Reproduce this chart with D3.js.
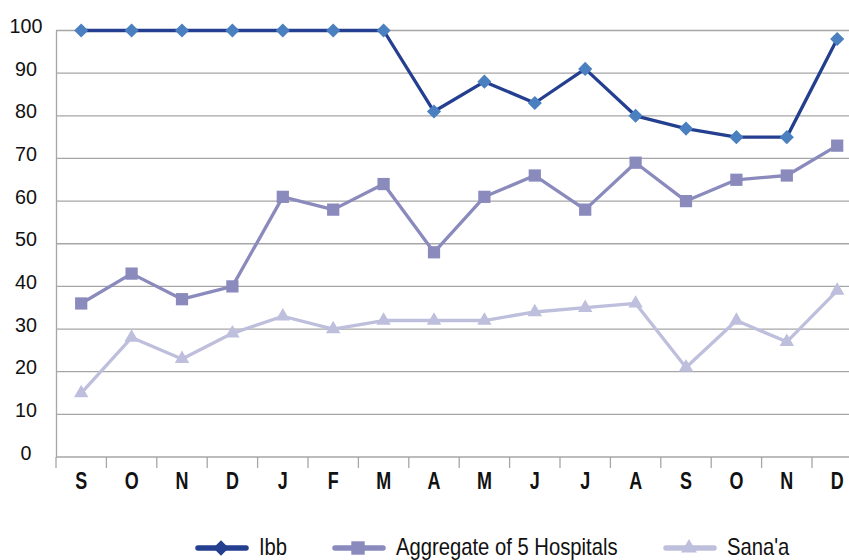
<!DOCTYPE html>
<html>
<head>
<meta charset="utf-8">
<script src="https://cdn.jsdelivr.net/npm/d3@7"></script>
<style>
  body { margin: 0; background: #fff; }
  text { font-family: "Liberation Sans", Arial, sans-serif; }
</style>
</head>
<body>
<div id="chart"></div>
<script>
// month labels, Sep through Dec of the following year
const months = ["S", "O", "N", "D", "J", "F", "M", "A", "M", "J", "J", "A", "S", "O", "N", "D"];
const ibb = [100, 100, 100, 100, 100, 100, 100, 81, 88, 83, 91, 80, 77, 75, 75, 98];
const aggregate = [36, 43, 37, 40, 61, 58, 64, 48, 61, 66, 58, 69, 60, 65, 66, 73];
const sanaa = [15, 28, 23, 29, 33, 30, 32, 32, 32, 34, 35, 36, 21, 32, 27, 39];
const yTicks = [0, 10, 20, 30, 40, 50, 60, 70, 80, 90, 100];

const W = 849, H = 560;
const margin = { top: 30.5, left: 56, bottom: 103 };
const plotW = 16 * 50.4, plotH = H - margin.top - margin.bottom;

// no condensed font is installed, so squeeze text horizontally
function squeeze(sel, sx) {
    sel.each(function () {
        const t = d3.select(this);
        const x0 = +(t.attr("x") || 0);
        t.attr("x", x0 / sx).attr("transform", `scale(${sx},1)`);
    });
}

const svg = d3.select("#chart").append("svg")
    .attr("width", W)
    .attr("height", H);

const keys = months.map((m, i) => i);
const x = d3.scaleBand().domain(keys).range([margin.left, margin.left + plotW]);
const y = d3.scaleLinear().domain([0, 100]).range([margin.top + plotH, margin.top]);

// gridlines
svg.append("g")
    .selectAll("line")
    .data(yTicks)
    .join("line")
    .attr("x1", margin.left)
    .attr("x2", W)
    .attr("y1", d => y(d))
    .attr("y2", d => y(d))
    .attr("stroke", "#a6a6a6")
    .attr("stroke-width", 1.3);

// y axis
const yAxis = svg.append("g")
    .attr("transform", `translate(${margin.left},0)`)
    .call(d3.axisLeft(y).tickValues(yTicks).tickSize(0).tickPadding(30));
yAxis.select(".domain").attr("stroke", "#a6a6a6").attr("stroke-width", 1.3);
yAxis.selectAll("text")
    .style("font-size", "21px")
    .attr("text-anchor", "middle")
    .attr("fill", "#111")
    .attr("dy", "0.1em")
    .call(squeeze, 0.94);

// x axis with ticks between categories
const xAxis = svg.append("g")
    .attr("transform", `translate(0,${y(0)})`)
    .call(d3.axisBottom(x).tickFormat(i => months[i]).tickSize(0).tickPadding(16));
xAxis.select(".domain").remove();
xAxis.selectAll("text")
    .style("font-size", "23px")
    .style("font-weight", "bold")
    .attr("fill", "#111")
    .call(squeeze, 0.78);
xAxis.selectAll(".sep")
    .data(d3.range(17))
    .join("line")
    .attr("class", "sep")
    .attr("x1", i => margin.left + i * x.bandwidth())
    .attr("x2", i => margin.left + i * x.bandwidth())
    .attr("y1", 0)
    .attr("y2", 11)
    .attr("stroke", "#a6a6a6")
    .attr("stroke-width", 1.3);

const series = [
    { name: "Ibb", values: ibb, line: "#243f8f", mark: "#4a7fc0", symbol: d3.symbolSquare, size: 100, rot: 45 },
    { name: "Aggregate of 5 Hospitals", values: aggregate, line: "#8a8abd", mark: "#8a8abd", symbol: d3.symbolSquare, size: 150, rot: 0 },
    { name: "Sana'a", values: sanaa, line: "#bebedd", mark: "#bebedd", symbol: d3.symbolTriangle, size: 90, rot: 0 }
];

const line = d3.line()
    .x((d, i) => x(i) + x.bandwidth() / 2)
    .y(d => y(d));

// draw lightest first so Ibb sits on top
series.slice().reverse().forEach(s => {
    const g = svg.append("g");
    g.append("path")
        .datum(s.values)
        .attr("d", line)
        .attr("fill", "none")
        .attr("stroke", s.line)
        .attr("stroke-width", 3.3)
        .attr("stroke-linejoin", "round");
    g.selectAll("path.pt")
        .data(s.values)
        .join("path")
        .attr("class", "pt")
        .attr("transform", (d, i) => `translate(${x(i) + x.bandwidth() / 2},${y(d)}) rotate(${s.rot})`)
        .attr("d", d3.symbol().type(s.symbol).size(s.size))
        .attr("fill", s.mark);
});

// legend
const legendPos = [196, 333, 664];
const legend = svg.append("g").attr("transform", "translate(0,548)");
series.forEach((s, i) => {
    const lg = legend.append("g").attr("transform", `translate(${legendPos[i]},0)`);
    lg.append("line")
        .attr("x1", 2).attr("x2", 50)
        .attr("stroke", s.line)
        .attr("stroke-width", 5.5)
        .attr("stroke-linecap", "round");
    lg.append("path")
        .attr("transform", `translate(25,0) rotate(${s.rot})`)
        .attr("d", d3.symbol().type(s.symbol).size(s.size * 1.2))
        .attr("fill", s.line);
    lg.append("text")
        .attr("x", 63)
        .attr("y", 6.5)
        .style("font-size", "23px")
        .attr("fill", "#111")
        .text(s.name)
        .call(squeeze, 0.88);
});
</script>
</body>
</html>
